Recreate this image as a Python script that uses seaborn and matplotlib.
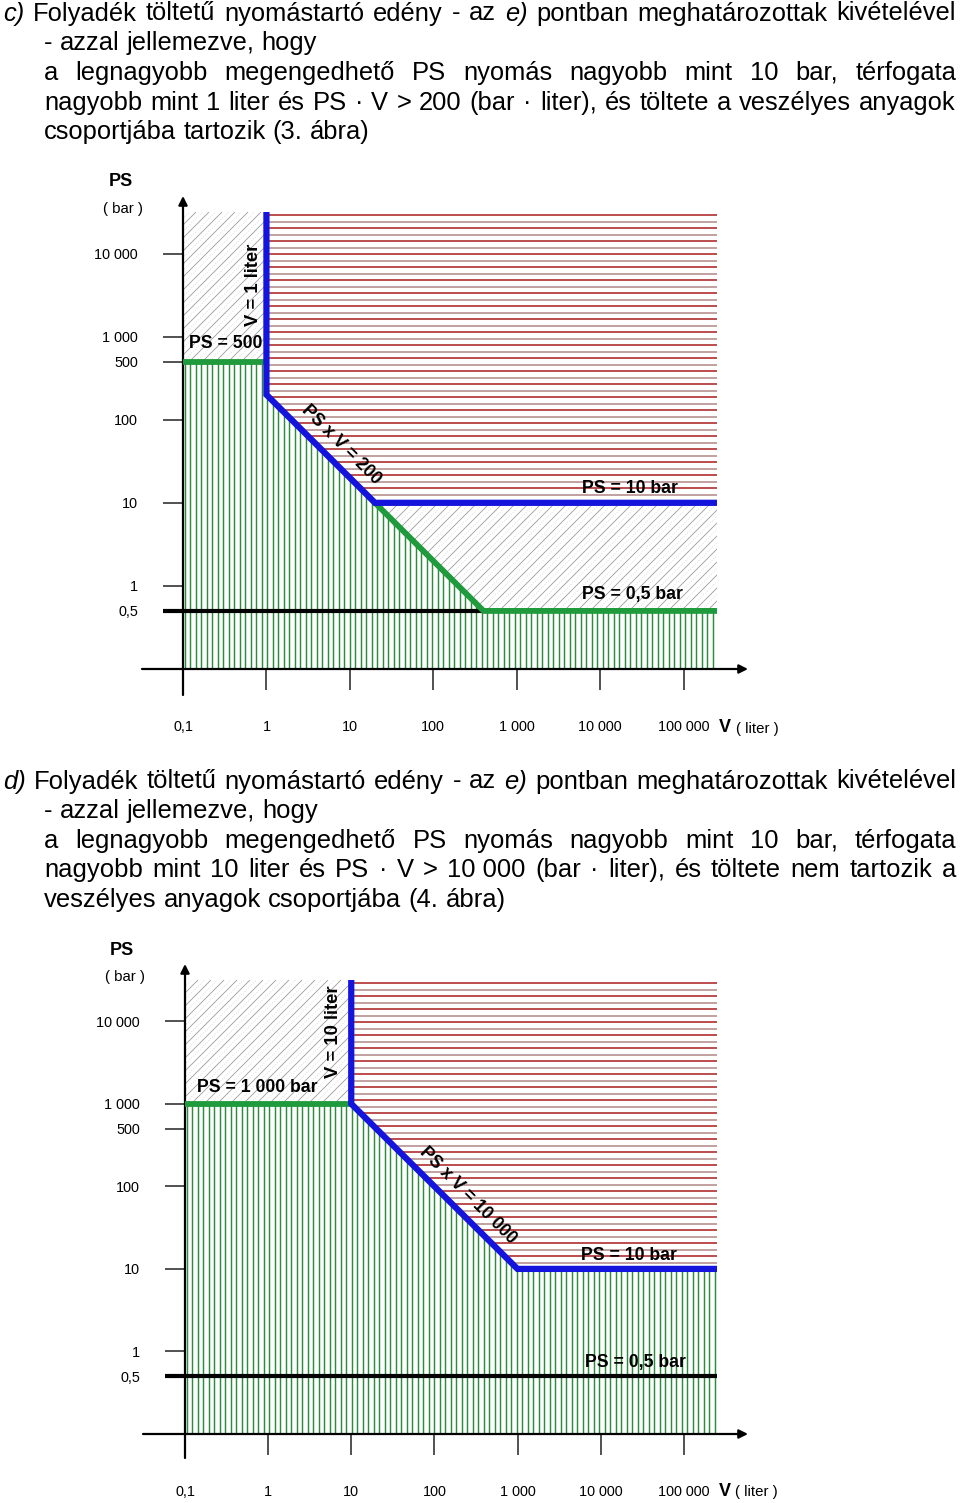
import numpy as np
import matplotlib
matplotlib.use("Agg")
import matplotlib.pyplot as plt
import seaborn as sns
from matplotlib.patches import Polygon
from matplotlib.collections import LineCollection
from matplotlib import font_manager as fm

# ---------------- data ----------------
V_MIN, V_MAX = 0.1, 10 ** 5.4
PS_MIN, PS_MAX = 0.1, 10 ** 4.5

x_tick_values = [0.1, 1, 10, 100, 1000, 10000, 100000]
x_tick_labels = ["0,1", "1", "10", "100", "1 000", "10 000", "100 000"]
y_tick_values = [0.5, 1, 10, 100, 500, 1000, 10000]
y_tick_labels = ["0,5", "1", "10", "100", "500", "1 000", "10 000"]

# chart 3 (paragraph c)
c_green_top_v = [0.1, 1]
c_green_top_ps = [500, 500]
c_blue_v = [1, 1, 20, V_MAX]
c_blue_ps = [PS_MAX, 200, 10, 10]
c_green_v = [20, 400, V_MAX]
c_green_ps = [10, 0.5, 0.5]
c_black_v = [0.057, 400]
c_black_ps = [0.5, 0.5]

# chart 4 (paragraph d)
d_green_v = [0.1, 10]
d_green_ps = [1000, 1000]
d_blue_v = [10, 10, 1000, V_MAX]
d_blue_ps = [PS_MAX, 1000, 10, 10]
d_black_v = [0.057, V_MAX]
d_black_ps = [0.5, 0.5]

# ---------------- style ----------------
sns.set_theme(style="white")
plt.rcParams["font.family"] = ["Liberation Sans", "DejaVu Sans"]

BLUE = "#1414dc"
GREEN = "#1f9a3c"
HGREEN = "#2a8c3c"

W_PX, H_PX = 960, 1503
fig = plt.figure(figsize=(9.6, 15.03), dpi=100)
fig.patch.set_facecolor("white")
renderer = fig.canvas.get_renderer()


def fpos(x, y):
    return x / W_PX, 1 - y / H_PX


def has_font(name):
    try:
        fm.findfont(fm.FontProperties(family=name), fallback_to_default=False)
        return True
    except Exception:
        return False


NARROW = ["Liberation Sans Narrow", "Liberation Sans", "DejaVu Sans"] if has_font("Liberation Sans Narrow") else ["Liberation Sans", "DejaVu Sans"]
REG = ["Liberation Sans", "DejaVu Sans"]


def text_width(s, size, family, style="normal"):
    t = fig.text(0, 0, s, fontsize=size, family=family, style=style)
    w = t.get_window_extent(renderer).width
    t.remove()
    return w


def draw_line(words, x0, x1, ybase, size, family, justify):
    items = [(w, "normal") if isinstance(w, str) else w for w in words]
    if not justify:
        x = x0
        sp = text_width("a a", size, family) - text_width("aa", size, family)
        for s, st in items:
            fig.text(*fpos(x, ybase), s, fontsize=size, family=family, style=st,
                     ha="left", va="baseline", color="black")
            x += text_width(s, size, family, st) + sp
        return
    widths = [text_width(s, size, family, st) for s, st in items]
    gap = (x1 - x0 - sum(widths)) / (len(items) - 1)
    x = x0
    for (s, st), w in zip(items, widths):
        fig.text(*fpos(x, ybase), s, fontsize=size, family=family, style=st,
                 ha="left", va="baseline", color="black")
        x += w + gap


# ---------------- paragraphs ----------------
size_c = 10 * 326 / text_width("csoportjába tartozik (3. ábra)", 10, REG)
pc = [
    ([("c)", "italic"), "Folyadék", "töltetű", "nyomástartó", "edény", "-", "az", ("e)", "italic"),
      "pontban", "meghatározottak", "kivételével"], 3, 956, True),
    ("- azzal jellemezve, hogy".split(), 44, 956, False),
    ("a legnagyobb megengedhető PS nyomás nagyobb mint 10 bar, térfogata".split(), 44, 956, True),
    ("nagyobb mint 1 liter és PS · V > 200 (bar · liter), és töltete a veszélyes anyagok".split(), 44, 956, True),
    ("csoportjába tartozik (3. ábra)".split(), 44, 956, False),
]
for i, (w, a, b, j) in enumerate(pc):
    draw_line(w, a, b, 20.5 + 29.7 * i, size_c, REG, j)

size_d = 10 * 461 / text_width("veszélyes anyagok csoportjába (4. ábra)", 10, NARROW)
pd_lines = [
    ([("d)", "italic"), "Folyadék", "töltetű", "nyomástartó", "edény", "-", "az", ("e)", "italic"),
      "pontban", "meghatározottak", "kivételével"], 3, 956, True),
    ("- azzal jellemezve, hogy".split(), 44, 956, False),
    ("a legnagyobb megengedhető PS nyomás nagyobb mint 10 bar, térfogata".split(), 44, 956, True),
    (["nagyobb", "mint", "10", "liter", "és", "PS", "·", "V", ">", "10 000", "(bar", "·", "liter),",
      "és", "töltete", "nem", "tartozik", "a"], 44, 956, True),
    ("veszélyes anyagok csoportjába (4. ábra)".split(), 44, 956, False),
]
for i, (w, a, b, j) in enumerate(pd_lines):
    draw_line(w, a, b, 788.5 + 29.6 * i, size_d, NARROW, j)


# ---------------- chart helpers ----------------
def make_axes(left, top, right, bottom):
    ax = fig.add_axes([left / W_PX, 1 - bottom / H_PX, (right - left) / W_PX, (bottom - top) / H_PX])
    ax.set_xscale("log")
    ax.set_yscale("log")
    ax.set_xlim(V_MIN, V_MAX)
    ax.set_ylim(PS_MIN, PS_MAX)
    ax.set_facecolor("none")
    for s in ax.spines.values():
        s.set_visible(False)
    ax.set_xticks(x_tick_values)
    ax.set_xticklabels(x_tick_labels)
    ax.set_yticks(y_tick_values)
    ax.set_yticklabels(y_tick_labels)
    ax.minorticks_off()
    ax.tick_params(axis="x", bottom=True, direction="out", length=15, width=1.1, color="#222222",
                   pad=22, labelsize=10.4, labelcolor="black")
    ax.tick_params(axis="y", left=True, direction="out", length=14.4, width=1.1, color="#222222",
                   pad=18, labelsize=10.4, labelcolor="black")
    ax.grid(False)
    return ax, right - left, bottom - top


def axis_arrows(ax, xl, xr, yb, yt):
    ap = dict(arrowstyle="-|>", color="black", lw=1.6, mutation_scale=13, shrinkA=0, shrinkB=0)
    ax.annotate("", xy=(xr, 0), xytext=(xl, 0), xycoords="axes fraction", arrowprops=ap,
                annotation_clip=False)
    ax.annotate("", xy=(0, yt), xytext=(0, yb), xycoords="axes fraction", arrowprops=ap,
                annotation_clip=False)


def clip_poly(ax, verts):
    poly = Polygon(verts, closed=True, fill=False, edgecolor="none", transform=ax.transData)
    ax.add_patch(poly)
    return poly


def add_lc(ax, segs, poly, **kw):
    lc = LineCollection(segs, transform=ax.transAxes, zorder=1, **kw)
    lc.set_clip_path(poly)
    ax.add_collection(lc, autolim=False)


def hatch_red(ax, verts, wp, hp):
    poly = clip_poly(ax, verts)
    ys = np.arange(3, hp, 6.5)
    segs = [[(0, 1 - y / hp), (1, 1 - y / hp)] for y in ys]
    cols = ["#b02e2e" if k % 2 == 0 else "#b89090" for k in range(len(segs))]
    add_lc(ax, segs, poly, colors=cols, linewidths=1.2)


def hatch_green(ax, verts, wp, hp):
    poly = clip_poly(ax, verts)
    xs = np.arange(1.5, wp, 5.5)
    segs = [[(x / wp, 0), (x / wp, 1)] for x in xs]
    add_lc(ax, segs, poly, colors=HGREEN, linewidths=1.05)


def hatch_grey(ax, verts, wp, hp):
    poly = clip_poly(ax, verts)
    cs = np.arange(-hp, wp, 13)
    segs = [[(c / wp, 0), ((c + hp) / wp, 1)] for c in cs]
    add_lc(ax, segs, poly, colors="#9c9c9c", linewidths=0.6)
    segs2 = [[((c + 6.5) / wp, 0), ((c + 6.5 + hp) / wp, 1)] for c in cs]
    add_lc(ax, segs2, poly, colors="#c4c4c4", linewidths=0.5, linestyles=[(0, (1, 2.5))])


def boundary(ax, v, ps, color, lw):
    sns.lineplot(x=v, y=ps, ax=ax, sort=False, estimator=None, color=color, linewidth=lw,
                 legend=False, zorder=5, solid_capstyle="butt", solid_joinstyle="miter",
                 clip_on=False)


def label(x, y, s, size=12.7, bold=True, rot=0):
    fig.text(*fpos(x, y), s, fontsize=size, fontweight="bold" if bold else "normal",
             ha="center", va="center", rotation=rot, rotation_mode="anchor", color="black",
             zorder=10)


# ---------------- chart 3 ----------------
ax1, wp1, hp1 = make_axes(183, 212, 717, 669)
top_blue = list(zip(c_blue_v, c_blue_ps))
hatch_red(ax1, top_blue + [(V_MAX, PS_MAX)], wp1, hp1)
hatch_grey(ax1, list(zip(c_green_top_v, c_green_top_ps)) + [(c_blue_v[0], PS_MAX), (V_MIN, PS_MAX)], wp1, hp1)
hatch_grey(ax1, list(zip(c_green_v, c_green_ps)) + [(V_MAX, c_green_ps[0])], wp1, hp1)
hatch_green(ax1, [(V_MIN, PS_MIN)] + list(zip(c_green_top_v, c_green_top_ps)) + top_blue[1:3]
            + list(zip(c_green_v, c_green_ps))[1:] + [(V_MAX, PS_MIN)], wp1, hp1)
boundary(ax1, c_black_v, c_black_ps, "black", 3.0)
boundary(ax1, c_green_top_v, c_green_top_ps, GREEN, 4.2)
boundary(ax1, c_green_v, c_green_ps, GREEN, 4.2)
boundary(ax1, c_blue_v, c_blue_ps, BLUE, 4.5)
ax1.set_xlabel("")
ax1.set_ylabel("")
axis_arrows(ax1, (142 - 183) / wp1, (748 - 183) / wp1, (669 - 695) / hp1, (669 - 196) / hp1)

label(121, 182, "PS", 13)
label(123, 209, "( bar )", 10.8, bold=False)
label(725, 728, "V", 13)
label(757, 729, "( liter )", 10.8, bold=False)
label(253, 285, "V = 1 liter", 13.3, rot=90)
label(226, 343, "PS = 500")
label(341, 445, "PS x V = 200", rot=-45)
label(630, 489, "PS = 10 bar")
label(632, 594, "PS = 0,5 bar")

# ---------------- chart 4 ----------------
ax2, wp2, hp2 = make_axes(185, 980, 717, 1434)
bot_blue = list(zip(d_blue_v, d_blue_ps))
hatch_red(ax2, bot_blue + [(V_MAX, PS_MAX)], wp2, hp2)
hatch_grey(ax2, list(zip(d_green_v, d_green_ps)) + [(d_blue_v[0], PS_MAX), (V_MIN, PS_MAX)], wp2, hp2)
hatch_green(ax2, [(V_MIN, PS_MIN)] + list(zip(d_green_v, d_green_ps)) + bot_blue[2:]
            + [(V_MAX, PS_MIN)], wp2, hp2)
boundary(ax2, d_black_v, d_black_ps, "black", 3.0)
boundary(ax2, d_green_v, d_green_ps, GREEN, 4.2)
boundary(ax2, d_blue_v, d_blue_ps, BLUE, 4.5)
ax2.set_xlabel("")
ax2.set_ylabel("")
axis_arrows(ax2, (143 - 185) / wp2, (748 - 185) / wp2, (1434 - 1458) / hp2, (1434 - 964) / hp2)

label(122, 951, "PS", 13)
label(125, 977, "( bar )", 10.8, bold=False)
label(725, 1491, "V", 13)
label(756, 1492, "( liter )", 10.8, bold=False)
label(333, 1032, "V = 10 liter", 13.3, rot=90)
label(257, 1087, "PS = 1 000 bar")
label(468, 1196, "PS x V = 10 000", rot=-45)
label(629, 1255, "PS = 10 bar")
label(635, 1362, "PS = 0,5 bar")

fig.savefig("out.png", dpi=100, facecolor="white")
